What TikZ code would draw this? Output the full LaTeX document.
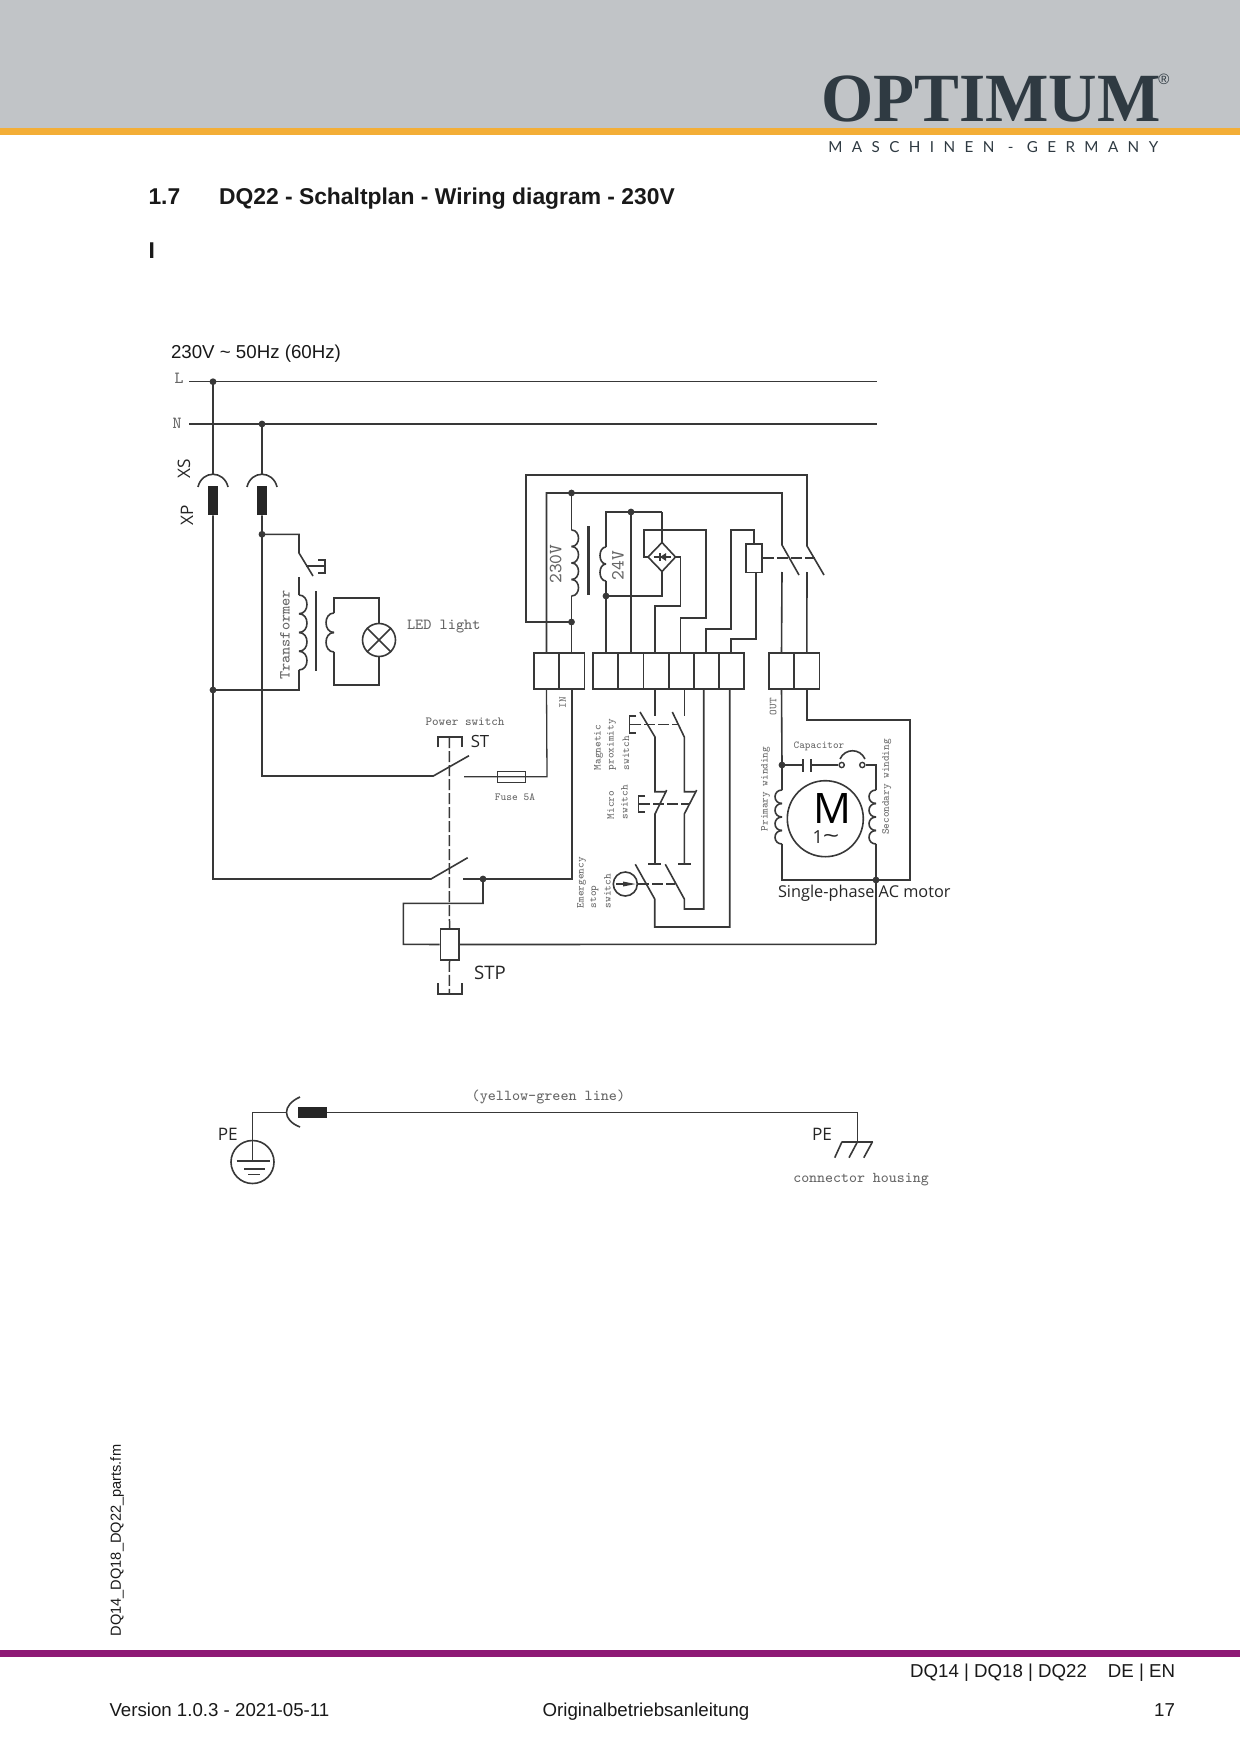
\documentclass[tikz,border=0pt]{standalone}
\usepackage{fontspec}
\setmainfont{Liberation Sans}
\newfontfamily\osans{Open Sans}
\newfontfamily\logoserif{Liberation Serif}
\newfontfamily\logosub[LetterSpace=62]{Lato}
\definecolor{hdrgray}{HTML}{C1C4C7}
\definecolor{hdrorange}{HTML}{F3AE37}
\definecolor{logodark}{HTML}{2F3A42}
\definecolor{footpurple}{HTML}{8E1A75}
\definecolor{wirecol}{HTML}{383838}
\definecolor{lblcol}{HTML}{666666}
\tikzset{
  x=0.5pt,y=-0.5pt,
  wire/.style={draw=wirecol,line width=0.8pt,line join=miter},
  thinwire/.style={draw=wirecol,line width=0.65pt},
  dashwire/.style={draw=wirecol,line width=0.75pt,dash pattern=on 5.5pt off 1.5pt},
  termbox/.style={rectangle,draw=wirecol,line width=0.8pt,minimum width=12.6pt,minimum height=18pt,inner sep=0pt,outer sep=0pt},
  jdot/.style={circle,fill=wirecol,inner sep=0pt,minimum size=3.4pt},
  opencontact/.style={circle,draw=wirecol,fill=white,line width=0.7pt,inner sep=0pt,minimum size=2.6pt},
  plug/.style={rectangle,fill=black!85,inner sep=0pt,minimum width=5.2pt,minimum height=14.5pt},
  txt/.style={inner sep=0pt,outer sep=0pt,text=black!90},
  lbl/.style={inner sep=0pt,outer sep=0pt,text=lblcol,font=\ttfamily\fontsize{5.3}{6}\selectfont},
  lblb/.style={lbl,font=\ttfamily\fontsize{7.7}{9}\selectfont},
  sanslbl/.style={inner sep=0pt,outer sep=0pt,text=black!85,font=\osans\fontsize{8.6}{10}\selectfont},
}
\newcommand{\coilv}[5]{%
  \pgfmathsetmacro\coilh{(#3-#2)/#4}%
  \pgfmathsetmacro\coilx{#1+1.33*#5}%
  \foreach \ci in {1,...,#4}{%
    \pgfmathsetmacro\cya{#2+(\ci-1)*\coilh}%
    \pgfmathsetmacro\cyb{\cya+\coilh}%
    \draw[wire] (#1,\cya) .. controls (\coilx,\cya) and (\coilx,\cyb) .. (#1,\cyb);
  }%
}
\begin{document}
\begin{tikzpicture}
\useasboundingbox (0,0) rectangle (1240,1754);
\fill[white] (0,0) rectangle (1240,1754);
% header
\fill[hdrgray] (0,0) rectangle (1240,128);
\fill[hdrorange] (0,128) rectangle (1240,135);
\node[anchor=base west,inner sep=0pt,text=logodark,font=\logoserif\bfseries\fontsize{34.5}{36}\selectfont] (logo) at (821,122) {\scalebox{0.973}[1]{OPTIMUM}};
\node[text=logodark,inner sep=0pt,font=\fontsize{7.5}{8}\selectfont] (logoR) at (1164,79) {®};
\node[anchor=base west,inner sep=0pt,text=logodark,font=\logosub\fontsize{7.6}{9}\selectfont] (logosub) at (828,153) {MASCHINEN - GERMANY};
% headings
\node[txt,anchor=base west,font=\bfseries\fontsize{11.43}{13}\selectfont] (secnum) at (148.5,204.5) {1.7};
\node[txt,anchor=base west,font=\bfseries\fontsize{11.43}{13}\selectfont] (sectitle) at (219,204.5) {DQ22 - Schaltplan - Wiring diagram - 230V};
\node[txt,anchor=base west,font=\bfseries\fontsize{11.43}{13}\selectfont] (secI) at (148.5,258.5) {I};
% footer
\fill[footpurple] (0,1650) rectangle (1240,1656.5);
\node[txt,anchor=south,rotate=90,font=\fontsize{7.3}{9}\selectfont] (fname) at (124,1540.5) {DQ14\_DQ18\_DQ22\_parts.fm};
\node[txt,anchor=base east,font=\fontsize{9.34}{11}\selectfont] (fa) at (1087,1677) {DQ14 | DQ18 | DQ22};
\node[txt,anchor=base east,font=\fontsize{9.34}{11}\selectfont] (fb) at (1175,1677) {DE | EN};
\node[txt,anchor=base west,font=\fontsize{9.34}{11}\selectfont] (fc) at (109.5,1716) {Version 1.0.3 - 2021-05-11};
\node[txt,anchor=base,font=\fontsize{9.34}{11}\selectfont] (fd) at (646,1716) {Originalbetriebsanleitung};
\node[txt,anchor=base east,font=\fontsize{9.34}{11}\selectfont] (fe) at (1175,1716) {17};

% supply
\node[txt,anchor=base west,font=\fontsize{9.35}{12}\selectfont] (supply) at (171,358.5) {230V \textasciitilde\ 50Hz (60Hz)};
\node[lbl,font=\ttfamily\fontsize{8.5}{9}\selectfont] (lblL) at (179,378) {L};
\node[lbl,font=\ttfamily\fontsize{8.5}{9}\selectfont] (lblN) at (177,423) {N};
\coordinate (Ls) at (189,381.7); \coordinate (Le) at (877,381.7);
\coordinate (Ns) at (189,424); \coordinate (Ne) at (877,424);
\draw[wire] (Ls) -- (Le);
\draw[wire] (Ns) -- (Ne);
\node[jdot] (jL) at (213,381.7) {};
\node[jdot] (jN) at (262,424) {};
\node[sanslbl,rotate=90] (XS) at (184,469) {XS};
\node[sanslbl,rotate=90] (XP) at (187,515) {XP};
% sockets and plugs
\node[plug] (p1) at (213,500.5) {};
\node[plug] (p2) at (262,500.5) {};
\draw[wire] (198,487) .. controls (202,470) and (224,470) .. (228,487);
\draw[wire] (247,487) .. controls (251,470) and (273,470) .. (277,487);
\draw[wire] (jL.center) -- (213,474);
\draw[wire] (jN.center) -- (262,474);
% L down to lower switch
\node[jdot] (jT2) at (213,690) {};
\node[jdot] (jT1) at (262,534.3) {};
\coordinate (pwLa) at (431,879);
\coordinate (pwNa) at (433.3,776);
\draw[wire] (p1.south) -- (jT2.center) -- (213,879) -- (pwLa) -- (467.7,857.7);
\draw[wire] (p2.south) -- (jT1.center) -- (262,776) -- (pwNa) -- (469,755.7);
% transformer
\draw[wire] (jT1.center) -- (299,534.3) -- (299,553) -- (313,576);
\draw[wire] (306,566) -- (325,566);
\draw[wire] (318,560) -- (325,560) -- (325,573) -- (318,573);
\draw[wire] (299,577) -- (299,595);
\coilv{299}{595}{670}{4}{8}
\draw[wire] (299,670) -- (299,690) -- (jT2.center);
\draw[line width=1.4pt,draw=wirecol] (316,591) -- (316,671);
\node[lblb,rotate=90] (trf) at (285,635) {Transformer};
\node[circle,draw=wirecol,line width=0.8pt,minimum size=16.5pt,inner sep=0pt] (lamp) at (379,640) {};
\draw[wire] (lamp.45) -- (lamp.225);
\draw[wire] (lamp.135) -- (lamp.-45);
\coilv{334}{613}{652}{2}{-8}
\draw[wire] (334,613) -- (334,598) -- (379,598) -- (lamp.north);
\draw[wire] (334,652) -- (334,685) -- (379,685) -- (lamp.south);
\node[lblb,anchor=west] (led) at (407,627) {LED light};

% terminals
\node[termbox] (t1) at (546.5,671) {};
\node[termbox] (t2) at (572,671) {};
\node[termbox] (t3) at (605.3,671) {};
\node[termbox] (t4) at (630.8,671) {};
\node[termbox] (t5) at (656.2,671) {};
\node[termbox] (t6) at (681.2,671) {};
\node[termbox] (t7) at (706.2,671) {};
\node[termbox] (t8) at (731.2,671) {};
\node[termbox] (t9) at (781.5,671) {};
\node[termbox] (t10) at (806.8,671) {};
\node[lbl] (lblIN) at (562.7,702.7) [rotate=90] {IN};
\node[lbl] (lblOUT) at (773,706.7) [rotate=90] {OUT};

% 230V / 24V board
\node[jdot] (j230t) at (571.5,493) {};
\node[jdot] (j230b) at (571.5,622) {};
\node[jdot] (j24t) at (631,512) {};
\node[jdot] (j24b) at (606,596) {};
\coordinate (relayA) at (782,545); \coordinate (relayB) at (807,546);
\draw[wire] (j230b.center) -- (526,622) -- (526,475) -- (807,475) -- (relayB) -- (824,575);
\draw[wire] (t1.north) -- (546.5,493) -- (782,493) -- (relayA) -- (799,575);
\draw[wire] (j230t.center) -- (571.5,530);
\coilv{571.5}{530}{596}{4}{7}
\draw[wire] (571.5,596) -- (571.5,653);
\draw[line width=1.4pt,draw=wirecol] (588.5,526) -- (588.5,595);
\node[lblb,rotate=90,font=\ttfamily\fontsize{9.3}{10}\selectfont] (l230) at (555.7,564) {230V};
\coilv{606}{547}{581}{2}{-6}
\draw[wire] (606,547) -- (606,512) -- (j24t.center) -- (662,512);
\draw[wire] (606,581) -- (j24b.center) -- (606,653);
\draw[wire] (j24t.center) -- (631,653);
\node[lblb,rotate=90,font=\ttfamily\fontsize{9.3}{10}\selectfont] (l24) at (618,565.7) {24V};
% bridge rectifier
\coordinate (dt) at (662,542.5); \coordinate (db) at (662,571.5);
\coordinate (dl) at (648,557); \coordinate (dr) at (675.5,557);
\draw[wire] (dt) -- (dr) -- (db) -- (dl) -- cycle;
\draw[wire] (662,512) -- (dt);
\draw[wire] (db) -- (662,596) -- (j24b.center);
\draw[wire] (dl) -- (644,557) -- (644,530) -- (706,530) -- (706,618) -- (680.3,618) -- (680.3,653);
\draw[wire] (dr) -- (680.3,557) -- (680.3,605.7) -- (654.7,605.7) -- (654.7,653);
\draw[thinwire] (653.5,557) -- (670.5,557);
\draw[thinwire] (660,553) -- (660,561);
\fill[wirecol] (660,557) -- (666,553) -- (666,561) -- cycle;
% relay
\node[rectangle,draw=wirecol,line width=0.8pt,inner sep=0pt,minimum width=8pt,minimum height=14.3pt] (relay) at (754,558) {};
\draw[wire] (relay.north) -- (754,530) -- (730.7,530) -- (730.7,629) -- (705.7,629) -- (705.7,653);
\draw[wire] (756,572.3) -- (756,639) -- (730.7,639) -- (730.7,653);
\draw[dashwire] (relay.east) -- (815,558);
\draw[wire] (782,572) -- (t9.north);
\draw[wire] (807,572) -- (t10.north);

% switches under the terminals
\coordinate (b5) at (655,689.3); \coordinate (b6) at (684.3,689.3);
\coordinate (b7) at (703.7,689.3); \coordinate (b8) at (729.7,689.3);
\draw[wire] (b5) -- (655,715.7);
\draw[wire] (b6) -- (684.3,715.7);
\draw[wire] (640,712) -- (655,737) -- (655,791.7) -- (666,791.7);
\draw[wire] (672.3,712) -- (684.3,737) -- (684.3,791.7) -- (696,791.7);
\draw[dashwire] (630,724.3) -- (678,724.3);
\draw[wire] (636,716) -- (629.3,716) -- (629.3,732.7) -- (636,732.7);
\draw[wire] (666.7,790) -- (655,814) -- (655,864);
\draw[wire] (696.7,790) -- (684.3,814) -- (684.3,864);
\draw[dashwire] (639,804) -- (689,804);
\draw[wire] (645,796) -- (638.3,796) -- (638.3,812) -- (645,812);
\draw[wire] (648,864) -- (660.7,864);
\draw[wire] (678,864) -- (690.7,864);
\draw[wire] (635.3,864.3) -- (654.7,899) -- (654.7,927) -- (729.7,927) -- (b8);
\draw[wire] (665.3,864.3) -- (684.3,899) -- (684.3,909) -- (703.7,909) -- (b7);
\node[circle,draw=wirecol,line width=0.8pt,inner sep=0pt,minimum size=12pt] (estop) at (625.3,884) {};
\draw[wire] (616,884) -- (625,884);
\fill[wirecol] (623,881.5) -- (635.5,884) -- (623,886.5) -- cycle;
\draw[dashwire] (estop.east) -- (675,884);
\node[lbl,rotate=90,anchor=west] (m1) at (598.5,770) {Magnetic};
\node[lbl,rotate=90,anchor=west] (m2) at (611.7,770) {proximity};
\node[lbl,rotate=90,anchor=west] (m3) at (626,770) {switch};
\node[lbl,rotate=90,anchor=west] (s1) at (610.7,819) {Micro};
\node[lbl,rotate=90,anchor=west] (s2) at (624.3,819) {switch};
\node[lbl,rotate=90,anchor=west] (e1) at (581.5,908) {Emergency};
\node[lbl,rotate=90,anchor=west] (e2) at (594.3,908) {stop};
\node[lbl,rotate=90,anchor=west] (e3) at (607.3,908) {switch};

% motor
\node[jdot] (jcap) at (782,765) {};
\node[jdot] (jmot) at (876,880) {};
\draw[wire] (t9.south) -- (jcap.center) -- (782,790);
\coilv{782}{790}{844}{4}{-7}
\draw[wire] (782,844) -- (782,880) -- (jmot.center);
\draw[wire] (t10.south) -- (806.8,720) -- (909.7,720) -- (909.7,880) -- (jmot.center);
\draw[wire] (jcap.center) -- (802.7,765);
\draw[wire] (802.7,759) -- (802.7,772);
\draw[wire] (811,759) -- (811,772);
\node[opencontact] (c1) at (841.7,765) {};
\node[opencontact] (c2) at (862.3,765) {};
\draw[wire] (811,765) -- (c1.west);
\draw[wire] (c2.east) -- (876,765) -- (876,790);
\draw[wire] (840,759) .. controls (845,748) and (860,748) .. (865,759);
\coilv{876}{790}{844}{4}{-7}
\draw[wire] (876,844) -- (jmot.center);
\node[circle,draw=wirecol,line width=0.8pt,inner sep=0pt,minimum size=38pt] (motor) at (825.3,818.7) {};
\node[sanslbl,font=\osans\fontsize{21}{22}\selectfont,text=black] (lblM) at (832.5,809) {M};
\node[sanslbl,font=\osans\fontsize{9}{10}\selectfont] (lbl1) at (826,837) {1\scalebox{1.6}[1.2]{\textasciitilde}};
\node[lbl] (lblcap) at (819,746.3) {Capacitor};
\node[lbl,rotate=90] (lblpw) at (765.7,789) {Primary winding};
\node[lbl,rotate=90] (lblsw) at (886.7,787) {Secondary winding};
\node[sanslbl,anchor=west,font=\osans\fontsize{8.15}{10}\selectfont] (lblmotor) at (778,893) {Single-phase AC motor};
\draw[wire] (jmot.center) -- (876,944.3);

% power switch
\node[jdot] (jpw) at (483,879) {};
\node[rectangle,draw=wirecol,line width=0.8pt,inner sep=0pt,minimum width=9.2pt,minimum height=15.5pt] (stp) at (449.5,944.5) {};
\draw[dashwire] (449.3,737) -- (stp.north);
\draw[dashwire] (stp.south) -- (449.3,994);
\draw[wire] (437.7,747.3) -- (437.7,737) -- (461.7,737) -- (461.7,747.3);
\draw[wire] (437.7,983) -- (437.7,994) -- (461.7,994) -- (461.7,983);
\node[rectangle,draw=wirecol,line width=0.7pt,inner sep=0pt,minimum width=14.2pt,minimum height=5.5pt] (fuse) at (511.5,776.8) {};
\draw[thinwire] (464,776.8) -- (fuse.east) -- (547,776.8) -- (t1.south);
\draw[wire] (463.3,879) -- (jpw.center) -- (572,879) -- (t2.south);
\draw[wire] (jpw.center) -- (483,903.3) -- (403.3,903.3) -- (403.3,944.3) -- (stp.west);
\draw[wire] (stp.east) -- (876,944.3);
\node[lbl,font=\ttfamily\fontsize{6.2}{7}\selectfont] (lblps) at (465,721.7) {Power switch};
\node[sanslbl,font=\osans\fontsize{8.4}{10}\selectfont] (lblST) at (480,741) {ST};
\node[sanslbl,font=\osans\fontsize{9.3}{10}\selectfont] (lblSTP) at (490,973.3) {STP};
\node[lbl,font=\ttfamily\fontsize{5.4}{6}\selectfont] (lblfuse) at (515,796.7) {Fuse 5A};

% PE
\node[rectangle,fill=black!85,inner sep=0pt,minimum width=14.5pt,minimum height=5.4pt] (peplug) at (312,1112.3) {};
\coordinate (hous) at (857.5,1141.7);
\draw[wire] (peplug.east) -- (857.5,1112.3) -- (hous);
\draw[wire] (842,1141.7) -- (872.5,1141.7);
\draw[wire] (872.5,1141.7) -- (863.8,1157.7);
\draw[wire] (857.5,1141.7) -- (849,1157.7);
\draw[wire] (842,1141.7) -- (834.7,1157.7);
\draw[wire] (300,1097) .. controls (282,1105) and (282,1120) .. (300,1127);
\node[circle,draw=wirecol,line width=0.8pt,inner sep=0pt,minimum size=21.5pt] (gnd) at (252.5,1162) {};
\draw[wire] (286,1112.3) -- (252.5,1112.3) -- (252.5,1160.7);
\draw[wire] (236.6,1160.7) -- (269.8,1160.7);
\draw[wire] (244,1168.7) -- (265,1168.7);
\draw[wire] (248,1174.5) -- (259.5,1174.5);
\node[sanslbl] (lblPE1) at (227.8,1134) {PE};
\node[sanslbl] (lblPE2) at (822,1134) {PE};
\node[lbl,font=\ttfamily\fontsize{7.6}{8}\selectfont] (lblyg) at (548.4,1097) {(yellow-green line)};
\node[lbl,font=\ttfamily\fontsize{7.5}{8}\selectfont] (lblch) at (861,1180) {connector housing};
\end{tikzpicture}
\end{document}
